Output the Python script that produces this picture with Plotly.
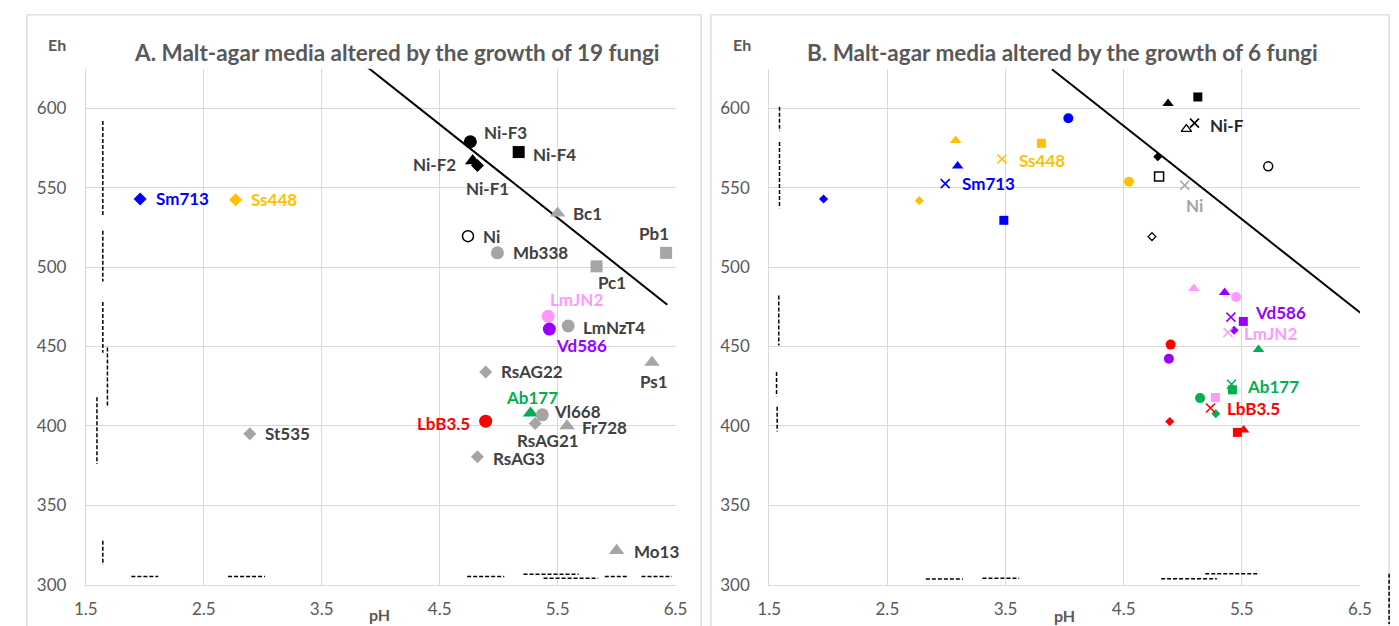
import plotly.graph_objects as go

# ---------------- Panel A data ----------------
A_names = ["Sm713", "Ss448", "St535", "Ni-F3", "Ni-F4", "Ni-F2", "Ni-F1", "Bc1", "Ni",
           "Mb338", "Pc1", "Pb1", "LmJN2", "Vd586", "LmNzT4", "Ps1", "RsAG22", "Ab177",
           "Vl668", "RsAG21", "LbB3.5", "Fr728", "RsAG3", "Mo13"]
A_ph = [1.96, 2.77, 2.89, 4.76, 5.17, 4.78, 4.82, 5.50, 4.74,
        4.99, 5.83, 6.42, 5.42, 5.43, 5.59, 6.30, 4.89, 5.27,
        5.37, 5.31, 4.89, 5.58, 4.82, 6.00]
A_eh = [543, 542.5, 395, 579, 572.5, 567, 564, 534, 519.5,
        509, 500.5, 509, 469, 461, 463, 440, 434, 408,
        407, 401.5, 403, 400, 380.5, 321.5]
A_line_ph = [3.88, 6.43]
A_line_eh = [626.4, 476.3]
A_dash_v_ph = [1.644, 1.644, 1.644, 1.683, 1.594, 1.644]
A_dash_v_eh = [(592, 531.6), (523, 491), (478, 446), (449.4, 412), (418, 376), (327.6, 312.3)]
A_dash_h_ph = [(1.886, 2.114), (2.706, 3.019), (4.733, 5.048), (5.211, 5.678),
               (5.381, 5.844), (5.900, 6.103), (6.211, 6.469)]
A_dash_h_eh = [305.1, 305.1, 305.1, 306.5, 304.0, 305.1, 305.1]

# ---------------- Panel B data ----------------
B_fungus = (["Sm713"] * 5 + ["Ss448"] * 5 + ["Ni"] * 9 + ["Vd586"] * 5 +
            ["LmJN2"] * 4 + ["Ab177"] * 5 + ["LbB3.5"] * 5)
B_kind = (["diamond", "triangle", "x", "square", "circle"] +
          ["diamond", "triangle", "x", "square", "circle"] +
          ["triangle", "square", "diamond", "triangle-open", "x", "square-open",
           "circle-open", "diamond-open", "x-grey"] +
          ["triangle", "x", "square", "diamond", "circle"] +
          ["triangle", "circle", "x", "square"] +
          ["triangle", "x", "square", "circle", "diamond"] +
          ["circle", "x", "diamond", "square", "triangle"])
B_ph = [1.96, 3.095, 2.99, 3.486, 4.032,
        2.77, 3.078, 3.47, 3.804, 4.545,
        4.876, 5.128, 4.789, 5.031, 5.10, 4.80, 5.724, 4.74, 5.017,
        5.355, 5.408, 5.513, 5.435, 4.883,
        5.094, 5.452, 5.383, 5.277,
        5.641, 5.413, 5.421, 5.147, 5.280,
        4.898, 5.235, 4.890, 5.463, 5.516]
B_eh = [542.9, 563.7, 552.6, 529.5, 593.8,
        541.9, 579.8, 568.1, 578.0, 553.8,
        603.1, 607.2, 569.5, 587.0, 590.7, 557.1, 563.5, 519.2, 551.6,
        484.0, 468.5, 465.8, 460.2, 442.3,
        486.6, 481.2, 458.8, 417.9,
        448.1, 426.2, 422.7, 417.5, 407.6,
        451.2, 411.3, 402.7, 395.9, 397.4]
B_label_names = ["Sm713", "Ss448", "Ni-F", "Ni", "Vd586", "LmJN2", "Ab177", "LbB3.5"]
B_label_ph = [2.99, 3.47, 5.10, 5.017, 5.408, 5.383, 5.413, 5.235]
B_label_eh = [552.6, 568.1, 590.7, 551.6, 468.5, 458.8, 426.2, 411.3]
B_line_ph = [3.893, 6.506]
B_line_eh = [624.7, 471.1]
B_dash_v_ph = [1.587, 1.587, 1.581, 1.562, 1.567]
B_dash_v_eh = [(601, 585.6), (578.8, 537.1), (482.1, 450.6), (434, 418.6), (412, 396.5)]
B_dash_h_ph = [(2.826, 3.139), (3.305, 3.616), (4.817, 5.289), (5.191, 5.649)]
B_dash_h_eh = [303.5, 304.1, 303.7, 306.8]

x_ticks = [1.5, 2.5, 3.5, 4.5, 5.5, 6.5]
y_ticks = [300, 350, 400, 450, 500, 550, 600]

# ---------------- styles ----------------
FONT = "Lato"
BLUE, ORANGE, GREY, BLACK = "#0000FF", "#FFC000", "#A5A5A5", "#000000"
PINK, PURPLE, GREEN, RED = "#FF99FF", "#9900FF", "#00B050", "#FF0000"
LBL = "#404040"
LBL_SIZE = 17

A_style = {  # name: (symbol, colour, label colour, dx, dy)
    "Sm713": ("diamond", BLUE, BLUE, 42, 0),
    "Ss448": ("diamond", ORANGE, ORANGE, 38, 0),
    "St535": ("diamond", GREY, LBL, 38, 0),
    "Ni-F3": ("circle", BLACK, LBL, 35, 9),
    "Ni-F4": ("square", BLACK, LBL, 36, -2),
    "Ni-F2": ("triangle-up", BLACK, LBL, -38, -4),
    "Ni-F1": ("diamond", BLACK, LBL, 10, -23),
    "Bc1": ("triangle-up", GREY, LBL, 30, 0),
    "Ni": ("circle-open", BLACK, LBL, 24, 0),
    "Mb338": ("circle", GREY, LBL, 43, 0),
    "Pc1": ("square", GREY, LBL, 15, -16),
    "Pb1": ("square", GREY, LBL, -12, 19),
    "LmJN2": ("circle", PINK, PINK, 28, 17),
    "Vd586": ("circle", PURPLE, PURPLE, 32, -16),
    "LmNzT4": ("circle", GREY, LBL, 46, -2),
    "Ps1": ("triangle-up", GREY, LBL, 2, -19),
    "RsAG22": ("diamond", GREY, LBL, 46, 0),
    "Ab177": ("triangle-up", GREEN, GREEN, 2, 16),
    "Vl668": ("circle", GREY, LBL, 35, 3),
    "RsAG21": ("diamond", GREY, LBL, 13, -17),
    "LbB3.5": ("circle", RED, RED, -42, -2),
    "Fr728": ("triangle-up", GREY, LBL, 37, -2),
    "RsAG3": ("diamond", GREY, LBL, 42, -2),
    "Mo13": ("triangle-up", GREY, LBL, 40, -1),
}
A_size = {"diamond": 10, "circle": 13, "square": 12, "triangle-up": 13.5, "circle-open": 11}

B_color = {"Sm713": BLUE, "Ss448": ORANGE, "Ni": BLACK, "Vd586": PURPLE,
           "LmJN2": PINK, "Ab177": GREEN, "LbB3.5": RED}
B_sym = {"diamond": ("diamond", 7, 0), "triangle": ("triangle-up", 10, 0),
         "x": ("x-thin-open", 9, 1.6), "square": ("square", 9, 0), "circle": ("circle", 10, 0),
         "triangle-open": ("triangle-up-open", 9, 1.3), "square-open": ("square-open", 9, 1.5),
         "circle-open": ("circle-open", 9, 1.5), "diamond-open": ("diamond-open", 6, 1.3),
         "x-grey": ("x-thin-open", 9, 1.6)}
B_label_style = {  # colour, dx, dy
    "Sm713": (BLUE, 43, 0), "Ss448": (ORANGE, 40, -1), "Ni-F": ("#262626", 32, -2),
    "Ni": (GREY, 10, -20), "Vd586": (PURPLE, 50, 5), "LmJN2": (PINK, 43, -1),
    "Ab177": (GREEN, 42, -2), "LbB3.5": (RED, 43, -1)}

W, H = 1399, 626
fig = go.Figure()


def add_dashes(vx, vy, hx, hy, xa, ya):
    xs, ys = [], []
    for x, (y0, y1) in zip(vx, vy):
        xs += [x, x, None]
        ys += [y0, y1, None]
    for (x0, x1), y in zip(hx, hy):
        xs += [x0, x1, None]
        ys += [y, y, None]
    fig.add_trace(go.Scatter(x=xs, y=ys, mode="lines", xaxis=xa, yaxis=ya,
                             line=dict(color="black", width=1.5, dash="4px,2px"),
                             hoverinfo="skip", showlegend=False))


# Panel A
add_dashes(A_dash_v_ph, A_dash_v_eh, A_dash_h_ph, A_dash_h_eh, "x", "y")
fig.add_trace(go.Scatter(x=A_line_ph, y=A_line_eh, mode="lines", xaxis="x", yaxis="y",
                         line=dict(color="black", width=2), showlegend=False))
sy = [A_style[n][0] for n in A_names]
fig.add_trace(go.Scatter(
    x=A_ph, y=A_eh, mode="markers", xaxis="x", yaxis="y", showlegend=False,
    marker=dict(symbol=sy, color=[A_style[n][1] for n in A_names], opacity=1,
                size=[A_size[s] for s in sy],
                line=dict(width=[1.5 if s.endswith("open") else 0 for s in sy],
                          color=[A_style[n][1] for n in A_names])),
    cliponaxis=False))
for n, px, ey in zip(A_names, A_ph, A_eh):
    _, _, lc, dx, dy = A_style[n]
    fig.add_annotation(x=px, y=ey, xref="x", yref="y", text=n, showarrow=False,
                       xshift=dx, yshift=dy, xanchor="center", yanchor="middle",
                       font=dict(family=FONT, size=LBL_SIZE, color=lc, weight="bold"))

# Panel B
add_dashes(B_dash_v_ph, B_dash_v_eh, B_dash_h_ph, B_dash_h_eh, "x2", "y2")
fig.add_trace(go.Scatter(x=B_line_ph, y=B_line_eh, mode="lines", xaxis="x2", yaxis="y2",
                         line=dict(color="black", width=2), showlegend=False))
bcol = [GREY if k == "x-grey" else B_color[f] for f, k in zip(B_fungus, B_kind)]
fig.add_trace(go.Scatter(
    x=B_ph, y=B_eh, mode="markers", xaxis="x2", yaxis="y2", showlegend=False,
    marker=dict(symbol=[B_sym[k][0] for k in B_kind], color=bcol, opacity=1,
                size=[B_sym[k][1] for k in B_kind],
                line=dict(width=[B_sym[k][2] for k in B_kind], color=bcol)),
    cliponaxis=False))
for n, px, ey in zip(B_label_names, B_label_ph, B_label_eh):
    lc, dx, dy = B_label_style[n]
    fig.add_annotation(x=px, y=ey, xref="x2", yref="y2", text=n, showarrow=False,
                       xshift=dx, yshift=dy, xanchor="center", yanchor="middle",
                       font=dict(family=FONT, size=LBL_SIZE, color=lc, weight="bold"))

# axes
ytop = 1 - 61.7 / H
ybot = 1 - 586 / H
axis_common = dict(showgrid=True, gridcolor="#D9D9D9", gridwidth=1, zeroline=False,
                   showline=True, linecolor="#D9D9D9", linewidth=1,
                   tickfont=dict(family=FONT, size=17, color="#595959"), ticks="")
fig.update_layout(
    xaxis=dict(domain=[67 / W, 667 / W], range=[1.5, 6.5], tickvals=x_ticks,
               ticktext=[f"{v:.1f}" for v in x_ticks], anchor="y", ticklabelstandoff=9,
               **axis_common),
    yaxis=dict(domain=[ybot, ytop], range=[300, 625], tickvals=y_ticks, anchor="x",
               ticklabelstandoff=15, **axis_common),
    xaxis2=dict(domain=[762.3 / W, 1363.3 / W], range=[1.5, 6.5], tickvals=x_ticks,
                ticktext=[f"{v:.1f}" for v in x_ticks], anchor="y2", ticklabelstandoff=9,
                **axis_common),
    yaxis2=dict(domain=[ybot, ytop], range=[300, 625], tickvals=y_ticks, anchor="x2",
                ticklabelstandoff=15, **axis_common),
    width=W, height=H, margin=dict(l=0, r=0, t=0, b=0),
    paper_bgcolor="white", plot_bgcolor="white",
)

# panel frames
for x0, x1 in [(7, 693), (703, 1393)]:
    fig.add_shape(type="rect", xref="paper", yref="paper", x0=x0 / W, x1=x1 / W,
                  y0=-0.05, y1=1 - 7 / H, line=dict(color="#D9D9D9", width=1.3),
                  fillcolor="rgba(0,0,0,0)", layer="below")
fig.add_shape(type="line", xref="paper", yref="paper", x0=1393 / W, x1=1393 / W,
              y0=1 - 575 / H, y1=0, line=dict(color="black", width=1.5, dash="4px,2px"))

# titles and axis names
for txt, cx in [("A. Malt-agar media altered by the growth of 19 fungi", 383.5),
                ("B. Malt-agar media altered by the growth of 6 fungi", 1061)]:
    fig.add_annotation(x=cx / W, y=1 - 45 / H, xref="paper", yref="paper", text=txt,
                       showarrow=False, xanchor="center", yanchor="middle",
                       font=dict(family=FONT, size=22.5, color="#595959", weight="bold"))
for txt, px, py in [("Eh", 38, 37), ("pH", 366, 616), ("Eh", 735, 37), ("pH", 1063, 617)]:
    fig.add_annotation(x=px / W, y=1 - py / H, xref="paper", yref="paper", text=txt,
                       showarrow=False, xanchor="center", yanchor="middle",
                       font=dict(family=FONT, size=16, color="#595959", weight="bold"))

fig.write_html("out.html")
